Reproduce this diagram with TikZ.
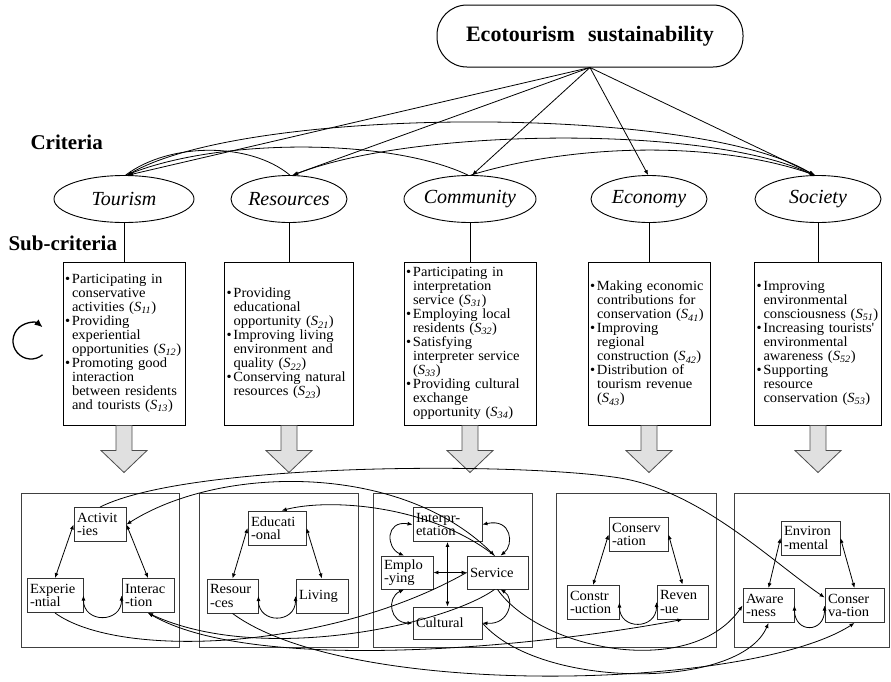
\documentclass[tikz,border=0pt]{standalone}
\usepackage{fontspec}
\setmainfont{Liberation Serif}
\newfontfamily\boxfont{Liberation Serif}[FakeStretch=1.04]
\usetikzlibrary{shapes.geometric,arrows.meta}
\newcommand\bitem{\makebox[7pt][l]{\textbullet}}
\newcommand\bcont{\hspace*{7pt}}
\newcommand\sij[1]{(\textit{S}\textsubscript{\textit{#1}})}
\tikzset{
  goal/.style={draw,line width=1pt,rounded corners=30pt,minimum width=306pt,minimum height=62pt,font=\fontsize{22}{26}\selectfont\bfseries},
  crit/.style={draw,ellipse,line width=0.9pt,minimum height=47pt,inner sep=0pt,font=\fontsize{20}{24}\selectfont\itshape},
  lbl/.style={anchor=west,font=\fontsize{21}{24}\selectfont\bfseries},
  subbox/.style={draw,line width=1pt,minimum height=163pt,inner sep=2pt,align=left,font=\boxfont\fontsize{14}{14}\selectfont},
  cluster/.style={draw=black!75,line width=1pt,minimum width=#1,minimum height=154pt},
  elem/.style={draw=black!80,line width=0.9pt,text width=#1,minimum height=34pt,inner sep=3pt,align=left,font=\boxfont\fontsize{14}{13.5}\selectfont},
  link/.style={line width=0.8pt},
  onehead/.style={-{Latex[length=5pt,width=4pt]}},
  twohead/.style={{Latex[length=5pt,width=4pt]}-{Latex[length=5pt,width=4pt]}},
  bigarrow/.style={draw=black!70,fill=black!12,line width=0.8pt}
}
\begin{document}
\begin{tikzpicture}[x=1pt,y=1pt]
\useasboundingbox (0,0) rectangle (891,-681);

% goal and criteria
\node[goal] (goal) at (590,-36) {Ecotourism\hspace{0.35em} sustainability};
\node[lbl] at (27,-142) {Criteria};
\node[lbl] at (5,-243) {Sub-criteria};
\node[crit,minimum width=140pt] (tour) at (124,-199) {Tourism};
\node[crit,minimum width=116pt] (reso) at (289,-199) {Resources};
\node[crit,minimum width=132pt] (comm) at (470,-199) {Community};
\node[crit,minimum width=116pt] (econ) at (649,-199) {Economy};
\node[crit,minimum width=126pt] (soci) at (818,-199) {Society};
\foreach \c/\a in {tour/80,reso/82,comm/85,econ/92,soci/97}
  \draw[link,onehead] (goal.south) -- (\c.\a);
\draw[link,twohead] (tour.82) .. controls (250,-105) and (700,-105) .. (soci.100);
\draw[link,onehead] (soci.102) .. controls (720,-126) and (420,-126) .. (reso.80);
\draw[link,onehead] (comm.95) .. controls (390,-138) and (220,-138) .. (tour.84);
\draw[link] (reso.88) .. controls (250,-142) and (170,-142) .. (tour.86);
\draw[link,onehead] (comm.88) .. controls (580,-142) and (720,-142) .. (soci.98);

% sub-criteria
\node[subbox,text width=118pt] (sub1) at (124,-343.5) {\bitem Participating in\\\bcont conservative\\\bcont activities \sij{11}\\\bitem Providing\\\bcont experiential\\\bcont opportunities \sij{12}\\\bitem Promoting good\\\bcont interaction\\\bcont between residents\\\bcont and tourists \sij{13}};
\node[subbox,text width=125pt] (sub2) at (289,-343.5) {\bitem Providing\\\bcont educational\\\bcont opportunity \sij{21}\\\bitem Improving living\\\bcont environment and\\\bcont quality \sij{22}\\\bitem Conserving natural\\\bcont resources \sij{23}};
\node[subbox,text width=128pt] (sub3) at (470,-343.5) {\bitem Participating in\\\bcont interpretation\\\bcont service \sij{31}\\\bitem Employing local\\\bcont residents \sij{32}\\\bitem Satisfying\\\bcont interpreter service\\\bcont \sij{33}\\\bitem Providing cultural\\\bcont exchange\\\bcont opportunity \sij{34}};
\node[subbox,text width=118pt] (sub4) at (649,-343.5) {\bitem Making economic\\\bcont contributions for\\\bcont conservation \sij{41}\\\bitem Improving\\\bcont regional\\\bcont construction \sij{42}\\\bitem Distribution of\\\bcont tourism revenue\\\bcont \sij{43}};
\node[subbox,text width=123pt] (sub5) at (818,-343.5) {\bitem Improving\\\bcont environmental\\\bcont consciousness \sij{51}\\\bitem Increasing tourists'\\\bcont environmental\\\bcont awareness \sij{52}\\\bitem Supporting\\\bcont resource\\\bcont conservation \sij{53}};
\foreach \c/\s in {tour/sub1,reso/sub2,comm/sub3,econ/sub4,soci/sub5}
  \draw[link] (\c.south) -- (\s.north);
\foreach \s in {sub1,sub2,sub3,sub4,sub5}
  \draw[bigarrow] (\s.south) ++(-8,0) -- ++(0,-25) -- ++(-15,0) -- ++(23,-22) -- ++(23,22) -- ++(-15,0) -- ++(0,25) -- cycle;
\draw[line width=1.3pt,-{Latex[length=8pt,width=7pt]}] (31,-341) ++(-50:18) arc[start angle=-50,end angle=-310,radius=18];

% clusters
\node[cluster=158pt] (cl1) at (100,-570) {};
\node[cluster=159pt] (cl2) at (278.5,-570) {};
\node[cluster=159pt] (cl3) at (452.5,-570) {};
\node[cluster=160pt] (cl4) at (636,-570) {};
\node[cluster=155pt] (cl5) at (812,-570) {};

\node[elem=46pt] (act) at (100,-524.5) {Activit\\-ies};
\node[elem=50pt] (expe) at (55,-595.5) {Experie\\-ntial};
\node[elem=46pt] (inte) at (148,-595.5) {Interac\\-tion};
\node[elem=52pt] (edu) at (277,-528) {Educati\\-onal};
\node[elem=45pt] (rsc) at (232.5,-596) {Resour\\-ces};
\node[elem=46pt] (liv) at (322,-596) {Living};
\node[elem=63pt] (intp) at (447.5,-524.5) {Interpr-\\etation};
\node[elem=46pt,minimum height=33pt] (emp) at (407,-572.5) {Emplo\\-ying};
\node[elem=55pt,minimum height=33pt] (ser) at (497.5,-572.5) {Service};
\node[elem=63pt,minimum height=32pt] (cul) at (447.5,-623) {Cultural};
\node[elem=53pt] (csv) at (638.5,-534.5) {Conserv\\-ation};
\node[elem=46pt] (cst) at (593,-602.5) {Constr\\-uction};
\node[elem=45pt] (rev) at (682.5,-602) {Reven\\-ue};
\node[elem=53pt] (env) at (810.5,-538) {Environ\\-mental};
\node[elem=45pt] (awa) at (768.5,-605.5) {Aware\\-ness};
\node[elem=53pt] (cnv) at (854.5,-605.5) {Conser\\va-tion};

% inner dependence
\foreach \t/\l/\r in {act/expe/inte,edu/rsc/liv,csv/cst/rev,env/awa/cnv} {
  \draw[link,twohead] (\t.west) -- (\l.north);
  \draw[link,twohead] (\t.east) -- (\r.north);
  \draw[link,twohead] (\l.east) .. controls +(0,-28) and +(0,-28) .. (\r.west);
}
\draw[link,twohead] (intp.south) -- (cul.north);
\draw[link,twohead] (emp.east) -- (ser.west);
\draw[link,twohead] (intp.west) .. controls (385,-520) and (386,-548) .. (emp.100);
\draw[link,twohead] (intp.east) .. controls (512,-518) and (514,-545) .. (ser.80);
\draw[link,twohead] (emp.260) .. controls (386,-598) and (390,-623) .. (cul.west);
\draw[link,twohead] (ser.280) .. controls (515,-598) and (510,-625) .. (cul.east);

% outer dependence
\draw[link,onehead] (act.north) .. controls (190,-462) and (520,-462) .. (620,-478) .. controls (700,-491) and (770,-560) .. (cnv.165);
\draw[link,twohead] (act.east) .. controls (220,-465) and (400,-462) .. (ser.100);
\draw[link,onehead] (ser.100) .. controls (430,-505) and (330,-498) .. (edu.75);
\draw[link] (expe.south) .. controls (120,-660) and (330,-650) .. (ser.west);
\draw[link,onehead] (ser.260) .. controls (445,-625) and (260,-665) .. (inte.south);
\draw[link,twohead] (inte.south) .. controls (250,-672) and (520,-650) .. (rev.south);
\draw[link,onehead] (ser.south) .. controls (540,-650) and (690,-680) .. (awa.west);
\draw[link,onehead] (cul.east) .. controls (540,-690) and (740,-690) .. (awa.south);
\draw[link,onehead] (rsc.south) .. controls (350,-700) and (750,-690) .. (cnv.south);
\end{tikzpicture}
\end{document}
